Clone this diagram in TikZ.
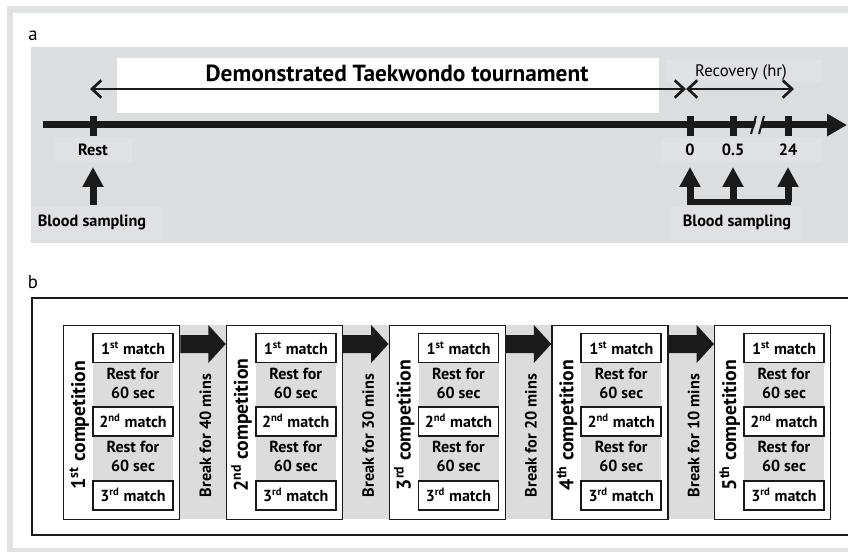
\documentclass[tikz,border=0pt]{standalone}
\usepackage{fontspec}
\setmainfont{PT Sans}
\usetikzlibrary{positioning,calc,arrows.meta}
\definecolor{framegray}{HTML}{E1E2E4}
\definecolor{panelgray}{HTML}{DCDDDF}
\definecolor{patchgray}{HTML}{E0E1E2}
\definecolor{restgray}{HTML}{DCDCDC}
\definecolor{ink}{HTML}{1A1A1A}
\tikzset{
	tick/.style={ink, line width=5.25pt},
	upblock/.style={ink, line width=5.25pt, -{Triangle[length=15pt,width=15pt]}},
	dblarrow/.style={ink, line width=2pt, {Straight Barb[length=7pt,width=13pt]}-{Straight Barb[length=7pt,width=13pt]}},
	ticklabel/.style={anchor=base, inner sep=0pt, font=\bfseries\fontsize{12.2}{14}\selectfont},
	panellabel/.style={anchor=base, inner sep=0pt, font=\fontsize{14}{16}\selectfont},
	compbox/.style={draw=ink, line width=1pt, fill=white, minimum width=87pt, minimum height=145.5pt, inner sep=0pt, anchor=north west},
	matchbox/.style={draw=ink, line width=1.2pt, fill=white, minimum width=60pt, minimum height=22pt, inner sep=0pt},
	matchtext/.style={anchor=base, inner sep=0pt, font=\bfseries\fontsize{12}{14}\selectfont},
	resttext/.style={anchor=base, inner sep=0pt, align=center, font=\bfseries\fontsize{12}{14.25}\selectfont},
	comptext/.style={anchor=base, inner sep=0pt, rotate=90, font=\bfseries\fontsize{14.8}{17}\selectfont},
	breaktext/.style={anchor=base, inner sep=0pt, rotate=90, font=\bfseries\fontsize{12.2}{14}\selectfont}
}

\begin{document}
\begin{tikzpicture}[x=0.75pt,y=-0.75pt]
	\useasboundingbox (0,0) rectangle (848,552);
	\begin{scope}
		\clip (0,0) rectangle (848,552);
		\fill[framegray] (7,6) rectangle (870,560);
		\fill[white] (13,13) rectangle (870,548);
		\fill[panelgray] (31,47) rectangle (870,243);
		\fill[white] (117,58) rectangle (659,113);
		\fill[patchgray] (55,138) rectangle (132,162);
		\fill[patchgray] (661,138) rectangle (822,162);
		\fill[patchgray] (31,207) rectangle (163,240);
		\fill[patchgray] (671,207) rectangle (801,240);
		\fill[patchgray] (666,60) rectangle (822,82);
		\draw[ink, line width=1.4pt] (32,298) rectangle (870,535);
	\end{scope}

	\node[panellabel] (lbla) at (33,41) {a};
	\node[panellabel] (lblb) at (33,288) {b};

	\node[anchor=base, inner sep=0pt, font=\bfseries\fontsize{17.5}{20}\selectfont] (title) at (397,82) {Demonstrated Taekwondo tournament};
	\node[anchor=base, inner sep=0pt, font=\fontsize{12.5}{14}\selectfont] (recov) at (741,77) {Recovery (hr)};
	\coordinate (tourA) at (90,89);
	\coordinate (tourB) at (686,89);
	\coordinate (recB) at (794,89);
	\draw[dblarrow] (tourA) -- (tourB);
	\draw[dblarrow] (tourB) -- (recB);

	\coordinate (tstart) at (43,125);
	\coordinate (tend) at (847,125);
	\draw[ink, line width=5.25pt, -{Triangle[length=15pt,width=16pt]}] (tstart) -- (tend);
	\fill[panelgray] (753,131) -- (757,119) -- (763,119) -- (759,131) -- cycle;
	\draw[ink, line width=1.5pt] (751,134) -- (756,116);
	\draw[ink, line width=1.5pt] (759,134) -- (764,116);

	\foreach \n/\x/\l in {rest/93/Rest, t0/690/0, t05/733/0.5, t24/788/24}{
		\draw[tick] (\x,116) -- (\x,136);
		\node[ticklabel] (\n lab) at (\x,156) {\l};
	}

	\node[ticklabel] (bloodL) at (92,226) {Blood sampling};
	\node[ticklabel] (bloodR) at (737,226) {Blood sampling};
	\coordinate (upL) at (93,205);
	\draw[upblock] (upL) -- (93,167);
	\coordinate (bar0) at (690,202);
	\coordinate (bar24) at (788,202);
	\draw[ink, line width=4.5pt, line cap=rect] (bar0) -- (bar24);
	\foreach \x in {690,733,788}
		\draw[upblock] (\x,202) -- (\x,167);

	\foreach \i in {1,...,4}
		\fill[restgray] (63+\i*162.75-46.75,325) rectangle (63+\i*162.75,519);

	\foreach \i/\suf in {1/st,2/nd,3/rd,4/th,5/th}{
		\pgfmathsetmacro{\lx}{63+(\i-1)*162.75}
		\node[compbox] (comp\i) at (\lx,325) {};
		\fill[restgray] (\lx+30,333) rectangle (\lx+110,510);
		\node[matchbox] (m\i a) at (\lx+70,348) {};
		\node[matchbox] (m\i b) at (\lx+70,421.5) {};
		\node[matchbox] (m\i c) at (\lx+70,495.5) {};
		\node[matchtext] at (\lx+70,354) {1\textsuperscript{st} match};
		\node[matchtext] at (\lx+70,427.5) {2\textsuperscript{nd} match};
		\node[matchtext] at (\lx+70,501.5) {3\textsuperscript{rd} match};
		\node[resttext] at (\lx+70,398) {Rest for\\60 sec};
		\node[resttext] at (\lx+70,471) {Rest for\\60 sec};
		\node[comptext] (ct\i) at (\lx+22,425) {\i\textsuperscript{\suf} competition};
	}

	\foreach \i/\j/\m in {1/2/40,2/3/30,3/4/20,4/5/10}{
		\fill[ink] ($(comp\i.north east)+(0,10)$) -- ($(comp\i.north east)+(28,10)$)
			-- ($(comp\i.north east)+(28,0)$) -- ($(comp\j.north west)+(0,19)$)
			-- ($(comp\i.north east)+(28,38)$) -- ($(comp\i.north east)+(28,28)$)
			-- ($(comp\i.north east)+(0,28)$) -- cycle;
		\node[breaktext] (brk\i) at ($(comp\i.east)!0.5!(comp\j.west)+(8,13)$) {Break for \m\ mins};
	}
\end{tikzpicture}
\end{document}
